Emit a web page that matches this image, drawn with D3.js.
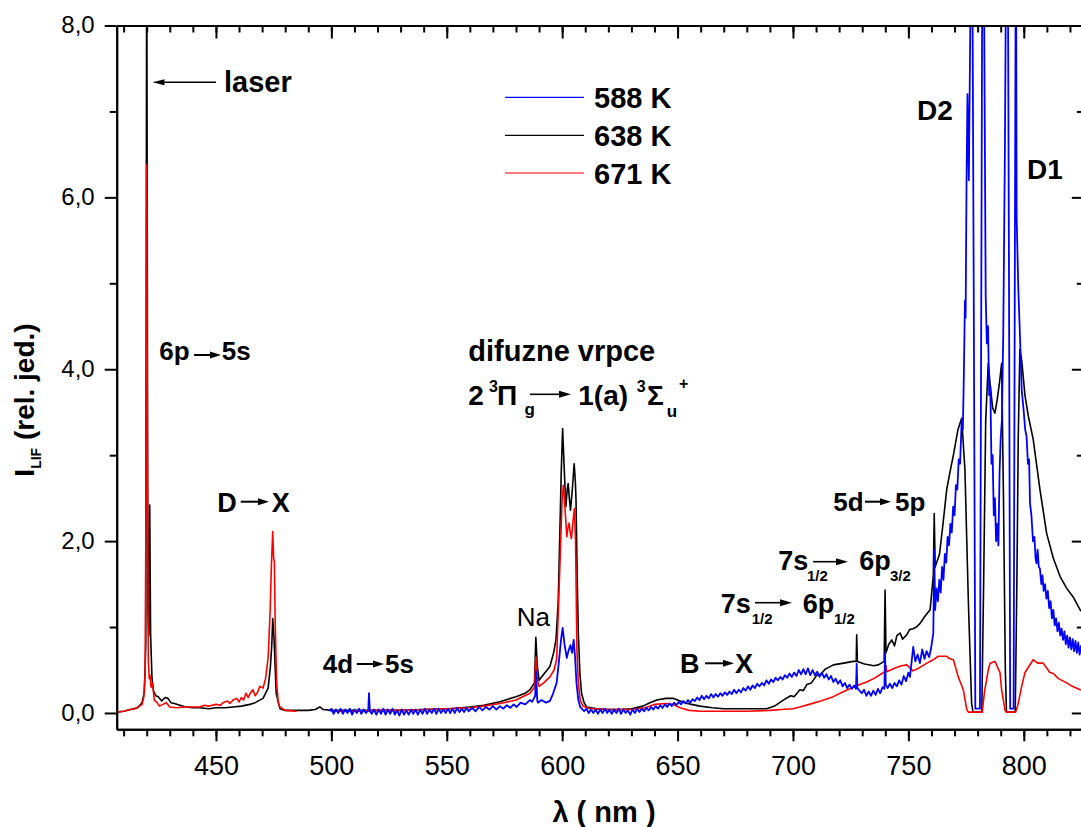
<!DOCTYPE html>
<html><head><meta charset="utf-8">
<script src="https://cdn.jsdelivr.net/npm/d3@7"></script>
<style>
body{margin:0;background:#fff}
svg{display:block}
text{font-family:"Liberation Sans",Arial,Helvetica,sans-serif;fill:#000}
</style>
</head><body>
<svg id="c" width="1081" height="827"></svg>
<script>
// ---------- data (wavelength nm, intensity rel.) ----------
const s588 = [[499.2,0.02],[500,0.05],[501,-0.01],[502,0.04],[503,0.0],[504,0.05],[505,-0.01],[506,0.04],[507,0.0],[508,0.05],[509,-0.02],[510,0.04],[511,0.0],[512,0.05],[513,-0.01],[514,0.04],[515,0.0],[516,0.03],[516.3,0.23],[516.7,0.02],[517.5,-0.01],[518.5,0.04],[519.5,-0.02],[520.5,0.04],[521.5,-0.01],[522.5,0.05],[523.5,-0.02],[524.5,0.04],[525.5,-0.01],[526.5,0.05],[527.5,-0.02],[528.5,0.03],[529.5,-0.03],[530.5,0.04],[531.5,-0.02],[532.5,0.03],[533.5,-0.02],[534.5,0.04],[535.5,-0.01],[536.5,0.04],[537.5,-0.02],[538.5,0.04],[539.5,-0.01],[540.5,0.05],[541.5,-0.01],[542.5,0.04],[543.5,0.0],[544.5,0.05],[545.5,-0.01],[546.5,0.05],[547.5,0.0],[548.5,0.04],[549.5,0.0],[550.5,0.05],[551.5,0.0],[552.5,0.05],[553.5,0.0],[554.5,0.06],[555.5,0.01],[556.5,0.05],[557.5,0.01],[558.5,0.06],[559.5,0.02],[561,0.06],[562.5,0.02],[564,0.07],[565.5,0.03],[567,0.07],[568.5,0.04],[570,0.08],[571.5,0.04],[573,0.08],[574.5,0.05],[576,0.09],[577.5,0.06],[579,0.1],[580.3,0.07],[582,0.12],[584,0.1],[586,0.15],[587,0.13],[588.3,0.2],[588.7,0.48],[589.2,0.15],[589.5,0.12],[591,0.15],[593,0.12],[594.7,0.14],[596,0.22],[597.6,0.35],[598.6,0.6],[599.5,0.85],[600.2,0.99],[601,0.8],[602,0.64],[602.7,0.72],[603.6,0.79],[604.3,0.7],[605,0.85],[605.6,0.65],[606.2,0.35],[607,0.15],[607.8,0.07],[608.5,0.05],[609.5,0.02],[610.5,0.05],[611.5,0.0],[612.5,0.04],[613.5,0.0],[614.5,0.04],[615.5,-0.01],[616.5,0.04],[617.5,0.0],[618.5,0.05],[619.5,0.0],[620.5,0.04],[621.5,-0.01],[622.5,0.04],[623.5,0.0],[624.5,0.05],[625.5,-0.01],[626.5,0.04],[627.5,0.0],[628.5,0.03],[629.5,-0.02],[630.5,0.04],[631.5,0.0],[632.5,0.05],[633.5,0.01],[634.5,0.05],[635.5,0.02],[636.5,0.06],[637.5,0.03],[638.5,0.07],[639.5,0.04],[640.5,0.08],[641.5,0.05],[642.5,0.09],[643.5,0.06],[644.5,0.1],[645.5,0.07],[646.5,0.11],[647.5,0.08],[648.5,0.12],[649.5,0.09],[650.5,0.13],[651.5,0.1],[652.5,0.14],[653.5,0.11],[654.5,0.15],[655.5,0.12],[656.5,0.16],[657.5,0.14],[658.5,0.18],[659.5,0.15],[660.5,0.2],[661.5,0.16],[662.5,0.2],[663.5,0.17],[664.5,0.22],[665.5,0.18],[666.5,0.22],[667.5,0.19],[668.5,0.23],[669.5,0.2],[670.5,0.24],[671.5,0.21],[672.5,0.25],[673.5,0.22],[674.5,0.27],[675.5,0.23],[676.5,0.27],[677.5,0.24],[678.5,0.29],[679.5,0.26],[680.5,0.31],[681.5,0.27],[682.5,0.32],[683.5,0.29],[684.5,0.34],[685.5,0.31],[686.5,0.35],[687.5,0.32],[688.5,0.38],[689.5,0.34],[690.5,0.39],[691.5,0.36],[692.5,0.41],[693.5,0.38],[694.5,0.42],[695.5,0.39],[696.5,0.44],[697.5,0.41],[698.5,0.46],[699.5,0.42],[700.5,0.47],[701.5,0.43],[702.5,0.5],[703.5,0.45],[704.5,0.51],[705.5,0.45],[706.5,0.52],[707.5,0.44],[708.5,0.5],[709.5,0.44],[710.5,0.48],[711.5,0.42],[712.5,0.47],[713.5,0.41],[714.5,0.45],[715.5,0.39],[716.5,0.43],[717.5,0.36],[718.5,0.4],[719.5,0.34],[720.5,0.38],[721.5,0.31],[722.5,0.35],[723.5,0.29],[724.5,0.33],[725.5,0.28],[726.5,0.32],[727.3,0.28],[727.6,0.57],[727.9,0.29],[728.8,0.26],[729.8,0.23],[730.8,0.27],[731.8,0.2],[732.8,0.25],[733.8,0.2],[734.8,0.26],[735.8,0.21],[736.8,0.28],[737.8,0.23],[738.8,0.3],[739.6,0.28],[739.9,0.7],[740.2,0.33],[741,0.29],[742,0.34],[743,0.29],[744,0.35],[745,0.31],[746,0.38],[747,0.33],[748,0.43],[749,0.37],[750,0.47],[750.7,0.42],[751.5,0.62],[752.1,0.77],[753,0.6],[754,0.68],[755,0.58],[756,0.74],[757,0.63],[757.9,0.72],[759,0.65],[759.8,0.75],[760.8,0.93],[761.2,1.9],[761.6,1.2],[762.2,1.45],[762.8,1.3],[763.4,1.55],[764,1.4],[764.6,1.7],[765.2,1.55],[765.8,1.85],[766.4,1.75],[767,2.05],[767.6,1.95],[768.2,2.2],[768.8,2.1],[769.4,2.4],[770,2.3],[770.6,2.65],[771.2,2.6],[771.8,2.95],[772.4,2.9],[773.1,3.41],[773.6,3.3],[774,3.88],[774.5,4.8],[774.8,4.6],[775.2,6.2],[775.6,7.2],[776.2,6.2],[777,8.5],[777.6,9.5],[778.3,5],[779,0.05],[781,0.05],[781.6,5],[782.1,9.5],[782.8,8.3],[783.5,4.85],[784,4.3],[784.5,4.5],[785,3.7],[785.5,3.8],[786,2.9],[786.5,3.0],[787,2.3],[787.5,2.5],[788,2.0],[788.5,2.2],[789,1.95],[789.5,2.8],[790,3.2],[790.5,3.4],[791.1,4.4],[791.8,6.5],[792.5,9.5],[793.1,8.8],[793.6,5],[794.1,0.05],[795.6,0.05],[796.1,5],[796.6,9.5],[796.9,5.78],[797.6,4.96],[798.4,4.34],[799.1,3.76],[800,3.5],[800.6,3.3],[801.2,3.22],[801.8,2.9],[802.3,2.95],[802.7,2.44],[803.3,2.3],[804,2.0],[804.6,2.05],[805.1,1.8],[805.5,1.74],[806,1.9],[806.5,1.7],[807,1.68],[807.6,1.5],[808.1,1.6],[808.6,1.42],[809.2,1.5],[809.8,1.33],[810.4,1.42],[811,1.22],[811.6,1.3],[812.2,1.1],[812.8,1.2],[813.4,1.02],[814,1.1],[814.6,0.95],[815.2,1.05],[815.8,0.9],[816.4,0.98],[817,0.85],[817.6,0.95],[818.2,0.8],[818.8,0.9],[819.4,0.76],[820,0.88],[820.6,0.74],[821.2,0.86],[821.8,0.72],[822.4,0.84],[823,0.7],[823.6,0.82],[824.2,0.68],[824.8,0.78],[826,0.7]];

const s638 = [[407,0.01],[410,0.02],[413,0.04],[416,0.06],[418,0.12],[419,0.25],[419.6,0.8],[420,9.5],[420.5,1.2],[420.9,0.9],[421.3,2.42],[421.7,0.9],[422.3,0.4],[423,0.25],[424,0.2],[425,0.19],[426.5,0.14],[428,0.18],[429.2,0.17],[430.5,0.12],[432,0.11],[434.4,0.09],[437,0.07],[440,0.06],[443,0.06],[447,0.05],[450,0.06],[454,0.06],[457.4,0.07],[461,0.08],[464.7,0.1],[467,0.12],[470.4,0.17],[472.6,0.29],[473.6,0.54],[474.2,0.8],[474.6,1.1],[475.2,0.85],[475.7,0.5],[476.1,0.23],[477.7,0.05],[480,0.03],[485,0.03],[490,0.03],[493,0.04],[495,0.07],[496.5,0.04],[500,0.03],[510,0.03],[520,0.03],[530,0.03],[540,0.04],[551.4,0.05],[560,0.07],[566,0.09],[573,0.13],[580,0.19],[584,0.23],[586,0.27],[588,0.35],[588.6,0.88],[589.2,0.55],[590,0.38],[592,0.45],[594.7,0.54],[596.3,0.7],[597.3,0.85],[598.3,1.3],[599,2.1],[599.6,2.8],[600.2,3.31],[600.8,2.9],[601.6,2.4],[602.2,2.6],[602.6,2.67],[603.1,2.5],[603.6,2.36],[604.4,2.6],[605.2,2.9],[605.7,2.7],[606,2.48],[606.5,1.6],[607,0.93],[607.7,0.45],[608.4,0.23],[609.5,0.12],[610.6,0.07],[615,0.05],[620,0.04],[625,0.04],[630,0.05],[635,0.08],[638,0.12],[641,0.15],[645,0.17],[648,0.17],[650,0.15],[653,0.12],[656,0.1],[659.7,0.08],[665,0.06],[670,0.05],[675,0.05],[680,0.05],[685,0.05],[688.6,0.05],[692,0.08],[695.8,0.15],[699,0.2],[700.5,0.19],[703,0.27],[704.5,0.26],[706,0.33],[708,0.35],[710.3,0.44],[712,0.45],[714,0.51],[717.5,0.56],[722,0.58],[726.1,0.6],[727.4,0.6],[727.6,0.91],[727.9,0.6],[731,0.57],[735,0.55],[737,0.56],[739.5,0.6],[739.9,1.43],[740.3,0.7],[741.5,0.8],[742.8,0.85],[744,0.78],[745,0.9],[746.4,0.93],[747.5,0.86],[749.3,0.91],[750.5,0.97],[752,0.98],[753.5,1.0],[755,1.04],[757,1.12],[759.4,1.2],[760.8,1.6],[761.2,2.32],[761.6,1.7],[763.5,1.85],[765,2.2],[766.6,2.6],[768,2.8],[769.5,3.0],[771.5,3.3],[773.1,3.43],[774.5,2.83],[776,1.28],[777.4,0.11],[778,0.01],[781.8,0.01],[782.6,1.5],[783.5,3.4],[784.6,4.07],[785.5,3.8],[786.5,3.55],[787.5,3.49],[788.5,3.65],[789.5,3.85],[790.4,4.07],[791.2,2.5],[792,0.5],[792.5,0.01],[796.3,0.01],[797,1.5],[797.6,3.2],[798.3,4.23],[799.1,4.1],[800.5,3.7],[802,3.45],[804.1,3.18],[805.5,2.9],[807,2.6],[809.9,2.09],[812.8,1.8],[815.7,1.59],[818.6,1.45],[821.4,1.35],[824.4,1.2],[826,1.15]];

const s671 = [[407,0.01],[410,0.02],[413,0.04],[415,0.05],[417,0.08],[418,0.1],[418.7,0.18],[419.3,0.45],[419.8,3],[420,6.38],[420.3,3],[420.7,0.6],[421.1,0.4],[421.4,0.44],[421.9,0.3],[422.5,0.35],[423.3,0.15],[424.5,0.12],[425.5,0.08],[427,0.1],[428.5,0.12],[430,0.07],[433,0.06],[436,0.07],[440,0.07],[443,0.07],[445,0.09],[447,0.08],[450,0.1],[452,0.09],[453,0.12],[455,0.14],[456,0.11],[457.4,0.15],[459,0.17],[460,0.13],[461,0.18],[462,0.15],[463,0.23],[464,0.18],[464.7,0.22],[466,0.27],[467,0.2],[468,0.24],[469,0.31],[470.4,0.29],[471.5,0.4],[472.6,0.64],[473.5,1.2],[474,1.7],[474.6,2.11],[475,1.8],[475.3,1.76],[475.7,1.0],[476.3,0.35],[477,0.12],[477.7,0.07],[480,0.03],[485,0.02],[486,null],[500,0.02],[510,0.02],[520,0.03],[530,0.03],[540,0.04],[550,0.05],[560,0.06],[566,0.08],[573,0.11],[580,0.15],[586,0.23],[588,0.3],[588.6,0.65],[589.2,0.4],[590,0.31],[592,0.35],[594.7,0.42],[596.5,0.5],[597.6,0.62],[599,1.7],[600,2.5],[600.5,2.65],[601.2,2.4],[602,2.05],[602.5,2.15],[603,2.21],[603.5,2.1],[604,2.03],[604.6,2.2],[605.3,2.38],[605.8,2.0],[606.4,0.73],[607,0.35],[607.8,0.15],[609,0.08],[612,0.05],[620,0.04],[630,0.04],[636,0.06],[640,0.1],[645,0.11],[648,0.1],[651,0.06],[655,0.03],[660,0.02],[670,0.02],[680,0.02],[690,0.03],[695,0.04],[700,0.05],[703,0.07],[707,0.1],[712,0.14],[717.5,0.19],[722,0.25],[726,0.3],[729,0.33],[731.9,0.36],[735,0.4],[738,0.45],[740,0.48],[740.3,0.55],[740.6,0.48],[744,0.52],[747,0.55],[749.3,0.56],[752,0.49],[755,0.53],[758,0.58],[760.8,0.62],[763,0.66],[766.6,0.66],[768,0.63],[769.5,0.62],[771.6,0.42],[773.8,0.27],[775.3,0.04],[776,0.01],[782,0.01],[783,0.25],[784.6,0.5],[785.4,0.58],[787.5,0.6],[789.7,0.47],[790.4,0.27],[791.9,0.03],[792.5,0.01],[796.5,0.01],[797.5,0.1],[799,0.3],[800.5,0.47],[801.2,0.5],[804.1,0.62],[806,0.58],[807.7,0.58],[808.4,0.58],[811.3,0.47],[812.8,0.46],[815,0.4],[818.6,0.35],[821,0.31],[824.4,0.27],[826,0.26]];

const seriesNames = ["588 K","638 K","671 K"];
const xMajorTicks = [450,500,550,600,650,700,750,800];
const xMinorTicks = [410,420,430,440,450,460,470,480,490,500,510,520,530,540,550,560,570,580,590,600,610,620,630,640,650,660,670,680,690,700,710,720,730,740,750,760,770,780,790,800,810,820];
const yMajorTicks = [0,2,4,6,8];
const yTickLabels = ["0,0","2,0","4,0","6,0","8,0"];
const yMinorTicks = [1,3,5,7];

// ---------- layout ----------
const svg = d3.select("#c");
const L = 116.7, R = 1083.8, T = 25.5, B = 729.3;
const x = d3.scaleLinear().domain([407, 826]).range([L, R]);
const y = d3.scaleLinear().domain([-0.19, 8]).range([B, T]);
const colors = {"588 K":"#0000ff","638 K":"#000000","671 K":"#ff0000"};
const data = {"588 K":s588,"638 K":s638,"671 K":s671};

svg.append("defs").append("clipPath").attr("id","clip")
  .append("rect").attr("x",L).attr("y",T).attr("width",R-L).attr("height",B-T);

const line = d3.line().defined(d => d[1] !== null).x(d => x(d[0])).y(d => y(d[1]));
const plot = svg.append("g").attr("clip-path","url(#clip)");
const order = ["638 K","671 K","588 K"];
const widths = {"588 K":1.8,"638 K":1.6,"671 K":1.6};
order.forEach(n => {
  plot.append("path").datum(data[n]).attr("d", line)
    .attr("fill","none").attr("stroke", colors[n]).attr("stroke-width", widths[n])
    .attr("stroke-linejoin","round");
});

// ---------- axes ----------
function styleAxis(g){
  g.selectAll("path.domain").attr("stroke","#000").attr("stroke-width",2);
  g.selectAll(".tick line").attr("stroke","#000").attr("stroke-width",2);
}
const gb1 = svg.append("g").attr("transform",`translate(0,${B})`)
  .call(d3.axisBottom(x).tickValues(xMinorTicks).tickSize(7).tickSizeOuter(0).tickFormat(""));
styleAxis(gb1);
const gb2 = svg.append("g").attr("transform",`translate(0,${B})`)
  .call(d3.axisBottom(x).tickValues(xMajorTicks).tickSize(12).tickSizeOuter(0).tickFormat(d3.format("d")));
styleAxis(gb2);
gb2.selectAll("text").attr("y", 46).attr("dy", null).attr("font-size", 27)
  .attr("font-family","Liberation Sans, Arial, sans-serif").attr("fill","#000");
const gt1 = svg.append("g").attr("transform",`translate(0,${T})`)
  .call(d3.axisBottom(x).tickValues(xMinorTicks).tickSize(7).tickSizeOuter(0).tickFormat(""));
styleAxis(gt1);
const gt2 = svg.append("g").attr("transform",`translate(0,${T})`)
  .call(d3.axisBottom(x).tickValues(xMajorTicks).tickSize(13).tickSizeOuter(0).tickFormat(""));
styleAxis(gt2);
const gl1 = svg.append("g").attr("transform",`translate(${L},0)`)
  .call(d3.axisLeft(y).tickValues(yMinorTicks).tickSize(7).tickSizeOuter(0).tickFormat(""));
styleAxis(gl1);
const gl2 = svg.append("g").attr("transform",`translate(${L},0)`)
  .call(d3.axisLeft(y).tickValues(yMajorTicks).tickSize(12).tickSizeOuter(0).tickPadding(10)
  .tickFormat((d,i) => yTickLabels[i]));
styleAxis(gl2);
gl2.selectAll("text").attr("font-size", 24).attr("dy","0.3em")
  .attr("font-family","Liberation Sans, Arial, sans-serif").attr("fill","#000");
const gr1 = svg.append("g").attr("transform",`translate(${R},0)`)
  .call(d3.axisLeft(y).tickValues(yMinorTicks).tickSize(7).tickSizeOuter(0).tickFormat(""));
styleAxis(gr1);
const gr2 = svg.append("g").attr("transform",`translate(${R},0)`)
  .call(d3.axisLeft(y).tickValues(yMajorTicks).tickSize(12).tickSizeOuter(0).tickFormat(""));
styleAxis(gr2);

svg.append("text").attr("x", 604).attr("y", 822).attr("text-anchor","middle")
  .attr("font-size", 29).attr("font-weight","bold").text("λ ( nm )");
const yt = svg.append("text").attr("transform","translate(33.5,400) rotate(-90)")
  .attr("text-anchor","middle").attr("font-size",28).attr("font-weight","bold");
yt.append("tspan").text("I");
yt.append("tspan").attr("font-size",14).attr("dy",7).text("LIF");
yt.append("tspan").attr("dy",-7).text(" (rel. jed.)");

// ---------- legend ----------
const legendY = [97.3, 135.3, 173];
seriesNames.forEach((n,i) => {
  svg.append("line").attr("x1",505).attr("x2",584).attr("y1",legendY[i]).attr("y2",legendY[i])
    .attr("stroke", n === "671 K" ? "#ff5050" : colors[n]).attr("stroke-width",1.3);
  svg.append("text").attr("x",594).attr("y",legendY[i]+11).attr("font-size",29)
    .attr("font-weight","bold").text(n);
});

// ---------- annotations ----------
function txt(s, px, py, size, bold=true){
  svg.append("text").attr("x",px).attr("y",py).attr("font-size",size)
    .attr("font-weight", bold ? "bold" : "normal").text(s);
}
function arrow(x1, x2, py, head=11, hw=3.5, sw=2){
  const dir = x2 > x1 ? 1 : -1;
  svg.append("line").attr("x1",x1).attr("x2",x2 - dir*head).attr("y1",py).attr("y2",py)
    .attr("stroke","#000").attr("stroke-width",sw);
  svg.append("path").attr("d",`M${x2},${py}L${x2-dir*head},${py-hw}L${x2-dir*head},${py+hw}Z`).attr("fill","#000");
}
txt("laser", 224, 92, 29);
arrow(216, 152.5, 82.3, 12, 3, 1.4);

txt("6p", 159.3, 360, 26); arrow(194, 221, 355); txt("5s", 221.7, 360, 26);
txt("D", 217.3, 511.7, 27); arrow(240.7, 269, 501.7); txt("X", 271.7, 511.7, 27);
txt("4d", 322.7, 672.7, 26); arrow(356.7, 384, 664); txt("5s", 385, 672.7, 26);

txt("difuzne vrpce", 468.3, 360.7, 29);
txt("2", 468.3, 405, 28);
txt("3", 489, 391.5, 16);
txt("Π", 497, 405, 28);
txt("g", 524.5, 415, 17);
arrow(530, 571, 394.3, 12, 3.5, 1.6);
txt("1(a)", 578.3, 405, 28);
txt("3", 636.7, 391.5, 16);
txt("Σ", 647, 405, 28);
txt("u", 666.7, 416.5, 17);
txt("+", 679, 389, 16);

txt("Na", 516.7, 626, 26, false);
txt("B", 680, 673.3, 27); arrow(705, 734, 663.3); txt("X", 735, 673.3, 27);

txt("7s", 720.7, 613.3, 27); txt("1/2", 751.7, 624, 15);
arrow(755, 792, 602.7, 12, 3.5, 1.6);
txt("6p", 802.7, 613.3, 27); txt("1/2", 834, 624, 15);

txt("7s", 778.3, 570, 27); txt("1/2", 807, 581, 15);
arrow(813, 848, 561.7, 12, 3.5, 1.6);
txt("6p", 859.3, 570, 27); txt("3/2", 890, 581, 15);

txt("5d", 833.3, 510.7, 26); arrow(865, 891, 501.7); txt("5p", 895, 510.7, 26);

txt("D2", 917, 120, 28);
txt("D1", 1027, 179, 28);
</script>
</body></html>
